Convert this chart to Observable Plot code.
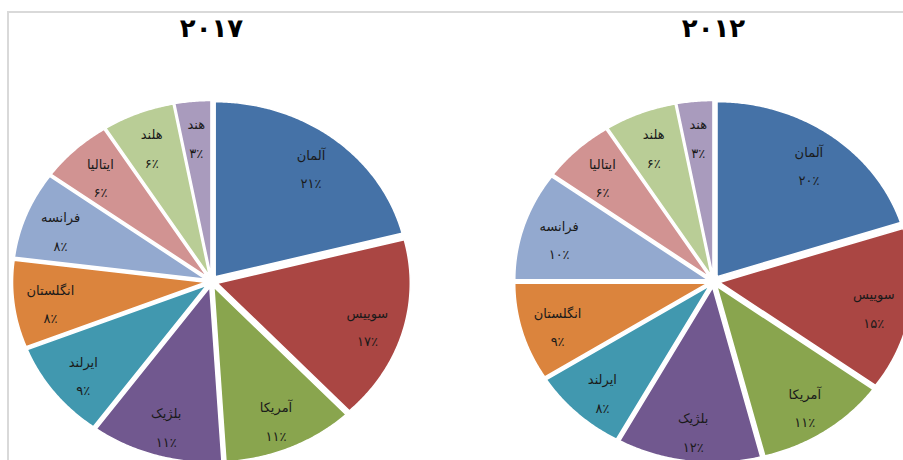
<!DOCTYPE html>
<html>
<head>
<meta charset="utf-8">
<script src="https://cdn.jsdelivr.net/npm/d3@7"></script>
<script src="https://cdn.jsdelivr.net/npm/@observablehq/plot@0.6"></script>
<style>
  html, body { margin: 0; padding: 0; background: #fff; overflow: hidden; }
  #wrap { position: relative; width: 903px; height: 460px; overflow: hidden; }
  #frame { position: absolute; left: 7px; top: 11px; width: 1000px; height: 600px;
           border-left: 2px solid #d9d9d9; border-top: 2px solid #d9d9d9; box-sizing: border-box; }
  #chart { position: absolute; left: 0; top: 0; }
</style>
</head>
<body>
<div id="wrap"><div id="frame"></div><div id="chart"></div></div>
<script>
// ---- data ----
const countries = ["آلمان", "سوییس", "آمریکا", "بلژیک", "ایرلند", "انگلستان", "فرانسه", "ایتالیا", "هلند", "هند"];
const share2017 = [21, 17, 11, 11, 9, 8, 8, 6, 6, 3];
const share2012 = [20, 15, 11, 12, 8, 9, 10, 6, 6, 3];
const years = ["۲۰۱۷", "۲۰۱۲"];
const colors = ["#4572A7", "#AA4643", "#89A54E", "#71588F", "#4198AF", "#DB843D", "#93A9CF", "#D19392", "#B9CD96", "#A99BBD"];

// ---- layout (pixels) ----
const W = 903, H = 460;
const RX = 193, RY = 175;      // pie radii (horizontal, vertical)
const CXpx = [211, 713];       // pie centres
const CYpx = 281;
const EXPLODE = 6;             // slice explosion (px)
const LABEL_R = 0.81;

const faDigits = "۰۱۲۳۴۵۶۷۸۹";
const fa = n => String(n).replace(/[0-9]/g, d => faDigits[+d]);
const RLM = "\u200F";

const pies = [
  {year: years[0], values: share2017, cx: 0},
  {year: years[1], values: share2012, cx: (CXpx[1] - CXpx[0]) / RX}
];

const slicePts = [];
const labels = [];
for (const p of pies) {
  const arcs = d3.pie().sort(null).value(d => d)(p.values);
  arcs.forEach((a, i) => {
    const mid = (a.startAngle + a.endAngle) / 2;
    const ox = Math.sin(mid) * EXPLODE / RX;
    const oy = Math.cos(mid) * EXPLODE / RY;
    const key = p.year + "-" + i;
    slicePts.push({key, country: countries[i], x: p.cx + ox, y: oy});
    const n = Math.max(2, Math.ceil((a.endAngle - a.startAngle) / (Math.PI / 360)));
    for (let k = 0; k <= n; k++) {
      const t = a.startAngle + (a.endAngle - a.startAngle) * k / n;
      slicePts.push({key, country: countries[i], x: p.cx + ox + Math.sin(t), y: oy + Math.cos(t)});
    }
    labels.push({
      x: p.cx + ox + Math.sin(mid) * LABEL_R,
      y: oy + Math.cos(mid) * LABEL_R,
      text: countries[i] + "\n" + RLM + fa(p.values[i]) + "٪" + RLM
    });
  });
}

const chart = Plot.plot({
  width: W,
  height: H,
  margin: 0,
  style: {background: "transparent"},
  x: {domain: [-CXpx[0] / RX, (W - CXpx[0]) / RX], axis: null},
  y: {domain: [-(H - CYpx) / RY, CYpx / RY], axis: null},
  color: {domain: countries, range: colors},
  marks: [
    Plot.line(slicePts, {x: "x", y: "y", z: "key", fill: "country", stroke: "white", strokeWidth: 1.5, curve: "linear-closed"}),
    Plot.text(labels, {x: "x", y: "y", text: "text", fontSize: 13, lineHeight: 2.2, fill: "#1a1a1a", fontFamily: "DejaVu Sans"}),
    Plot.text(pies, {x: "cx", text: "year", frameAnchor: "top", lineAnchor: "middle", dy: 28, fontSize: 26, fontWeight: "bold", fill: "#000", fontFamily: "DejaVu Sans"})
  ]
});
document.getElementById("chart").appendChild(chart);
</script>
</body>
</html>
